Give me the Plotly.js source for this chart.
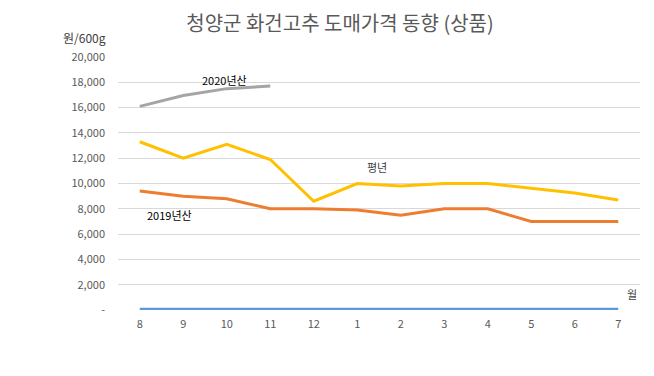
<!DOCTYPE html>
<html><head><meta charset="utf-8">
<script src="https://cdn.plot.ly/plotly-3.0.1.min.js"></script>
<style>html,body{margin:0;padding:0;background:#fff}#c{width:654px;height:376px}</style>
</head><body><div id="c"></div>
<script>
const months = ["8","9","10","11","12","1","2","3","4","5","6","7"];
const normalYear = [13300,12000,13100,11900,8600,10000,9800,10000,10000,9650,9250,8700];
const crop2019 = [9400,9000,8800,8000,8000,7900,7500,8000,8000,7000,7000,7000];
const crop2020 = [16100,16950,17500,17700];
const crop2021 = [50,50,50,50,50,0,50,50,50,50,50,50];
const yTickVals = [0,2000,4000,6000,8000,10000,12000,14000,16000,18000,20000];
const yTickText = ["-","2,000","4,000","6,000","8,000","10,000","12,000","14,000","16,000","18,000","20,000"];

const F = '"Noto Sans CJK KR", "Noto Sans", sans-serif';
const traces = [
  {x: months, y: crop2021, type:'scatter', mode:'lines', line:{color:'#5B9BD5', width:3}},
  {x: months, y: crop2019, type:'scatter', mode:'lines', line:{color:'#ED7D31', width:3}},
  {x: months, y: normalYear, type:'scatter', mode:'lines', line:{color:'#FFC000', width:3}},
  {x: months.slice(0,4), y: crop2020, type:'scatter', mode:'lines', line:{color:'#A5A5A5', width:3}}
];
function ann(text, px, py, color, extra){
  return Object.assign({text:text, xref:'paper', yref:'paper', x:(px-118)/522, y:(310-py)/253, xanchor:'center', yanchor:'middle', showarrow:false, font:{size:11, color:color}}, extra||{});
}
const layout = {
  width:654, height:376,
  margin:{l:118, r:14, t:57, b:66},
  paper_bgcolor:'#fff', plot_bgcolor:'#fff',
  showlegend:false,
  font:{family:F, color:'#595959', size:11},
  title:{text:'청양군 화건고추 도매가격 동향 (상품)', x:340/654, xanchor:'center', y:1-24/376, yanchor:'middle', font:{size:20, color:'#595959', family:F}},
  xaxis:{type:'category', range:[-0.5,11.5], showgrid:false, zeroline:false, showline:false, ticks:'', ticklabelstandoff:6, tickfont:{size:11, color:'#595959'}},
  yaxis:{range:[0,20000], tickvals:yTickVals, ticktext:yTickText, showgrid:true, gridcolor:'#D9D9D9', gridwidth:1, zeroline:false, showline:false, ticks:'', ticklabelstandoff:12, tickfont:{size:11, color:'#595959'}},
  annotations:[
    ann('2020년산', 224, 80, '#000'),
    ann('2019년산', 169, 215, '#000'),
    ann('평년', 377, 167, '#404040'),
    ann('월', 632, 294, '#404040'),
    ann('원/600g', 84, 37, '#404040', {font:{size:12, color:'#404040'}})
  ]
};
Plotly.newPlot('c', traces, layout, {displayModeBar:false, staticPlot:true});
</script></body></html>
